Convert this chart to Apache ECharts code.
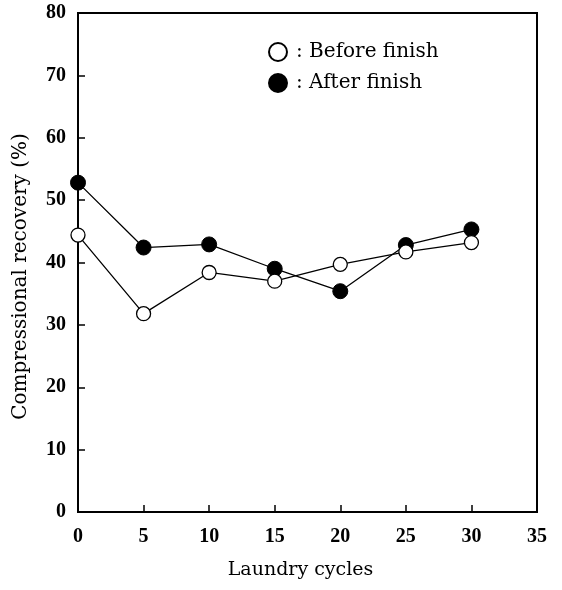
<!DOCTYPE html>
<html>
<head>
<meta charset="utf-8">
<script src="https://cdn.jsdelivr.net/npm/echarts@6/dist/echarts.min.js"></script>
<style>html,body{margin:0;padding:0;background:#fff;}#c{width:562px;height:590px;}</style>
</head>
<body>
<div id="c"></div>
<script>
const cycles = [0, 5, 10, 15, 20, 25, 30];
const beforeFinish = [44.4, 31.8, 38.4, 37.0, 39.7, 41.7, 43.2];
const afterFinish = [52.8, 42.4, 42.9, 39.0, 35.4, 42.8, 45.3];
const xTicks = [0, 5, 10, 15, 20, 25, 30, 35];
const yTicks = [0, 10, 20, 30, 40, 50, 60, 70, 80];

const pair = (xs, ys) => xs.map((x, i) => [x, ys[i]]);
const tickFont = 'Liberation Serif';
const textFont = 'DejaVu Serif';
const chart = echarts.init(document.getElementById('c'));
chart.setOption({
  animation: false,
  backgroundColor: '#fff',
  grid: { left: 78, top: 13, right: 25, bottom: 78, show: true, borderColor: '#000', borderWidth: 2, backgroundColor: 'transparent' },
  legend: {
    orient: 'vertical', left: 263, top: 37, itemGap: 11, itemWidth: 18, itemHeight: 18,
    icon: 'circle',
    textStyle: { fontFamily: textFont, fontSize: 20, color: '#000', padding: [0, 0, 0, 4] },
    formatter: n => ': ' + n,
    data: ['Before finish', 'After finish']
  },
  xAxis: {
    type: 'value', min: xTicks[0], max: xTicks[xTicks.length - 1], interval: 5,
    name: 'Laundry cycles', nameLocation: 'middle', nameGap: 49,
    nameTextStyle: { fontFamily: textFont, fontSize: 19, color: '#000', padding: [0, 14, 0, 0] },
    axisLine: { show: true, lineStyle: { color: '#000', width: 2 } },
    axisTick: { show: true, inside: true, length: 7, lineStyle: { color: '#000', width: 1.5 } },
    axisLabel: { fontFamily: tickFont, fontSize: 20, fontWeight: 'bold', color: '#000', margin: 15 },
    splitLine: { show: false }
  },
  yAxis: {
    type: 'value', min: yTicks[0], max: yTicks[yTicks.length - 1], interval: 10,
    name: 'Compressional recovery (%)', nameLocation: 'middle', nameGap: 47,
    nameTextStyle: { fontFamily: textFont, fontSize: 20, color: '#000', padding: [0, 28, 0, 0] },
    axisLine: { show: true, lineStyle: { color: '#000', width: 2 } },
    axisTick: { show: true, inside: true, length: 7, lineStyle: { color: '#000', width: 1.5 } },
    axisLabel: { fontFamily: tickFont, fontSize: 20, fontWeight: 'bold', color: '#000', margin: 12 },
    splitLine: { show: false }
  },
  series: [
    {
      name: 'Before finish', type: 'line', data: pair(cycles, beforeFinish),
      symbol: 'circle', symbolSize: 14, z: 3,
      lineStyle: { color: '#000', width: 1.3 },
      itemStyle: { color: '#fff', borderColor: '#000', borderWidth: 1.3 }
    },
    {
      name: 'After finish', type: 'line', data: pair(cycles, afterFinish),
      symbol: 'circle', symbolSize: 15, z: 2,
      lineStyle: { color: '#000', width: 1.3 },
      itemStyle: { color: '#000', borderColor: '#000', borderWidth: 1 }
    }
  ]
});
</script>
</body>
</html>
